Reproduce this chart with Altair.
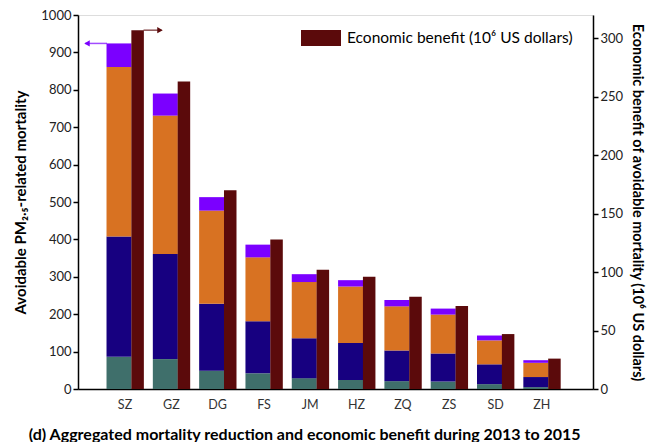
import altair as alt
import pandas as pd

cities = ["SZ", "GZ", "DG", "FS", "JM", "HZ", "ZQ", "ZS", "SD", "ZH"]
seg1 = [86, 80, 49, 42, 29, 24, 21, 20, 13, 5]        # teal (bottom)
seg2 = [322, 281, 179, 139, 107, 99, 82, 75, 53, 27]  # navy
seg3 = [453, 370, 249, 171, 150, 151, 118, 104, 64, 38]  # orange
seg4 = [63, 59, 36, 34, 21, 17, 17, 16, 13, 7]        # purple (top)
econ = [307, 263, 170, 128, 102, 96, 79, 71, 47, 26]  # economic benefit, 10^6 USD
left_ticks = [0, 100, 200, 300, 400, 500, 600, 700, 800, 900, 1000]
right_ticks = [0, 50, 100, 150, 200, 250, 300]

seg_names = ["s1", "s2", "s3", "s4"]
seg_colors = ["#3f6f6b", "#170080", "#d87222", "#7b00ff"]
red = "#5b0a0b"
FONT = "Lato"

rows = []
for i, c in enumerate(cities):
    for k, (name, vals) in enumerate(zip(seg_names, [seg1, seg2, seg3, seg4])):
        rows.append({"city": c, "seg": name, "order": k, "value": vals[i]})
stack_df = pd.DataFrame(rows)
econ_df = pd.DataFrame({"city": cities, "econ": econ,
                        "label": ["Economic benefit (10\u2076 US dollars)"] * len(cities)})
tot_df = pd.DataFrame({"city": cities,
                       "total": [a + b + c + d for a, b, c, d in zip(seg1, seg2, seg3, seg4)]})
arrow_left = tot_df[tot_df.city == cities[0]]
arrow_right = econ_df[econ_df.city == cities[0]]

xscale = alt.Scale(domain=cities, paddingInner=0, paddingOuter=0.56, align=0.46)
xaxis = alt.Axis(title=None, labelAngle=0, ticks=False, labelPadding=9,
                 labelFontSize=12.5, labelColor="#333333", labelFont=FONT,
                 domainColor="black", domainWidth=1.5)

yl = alt.Scale(domain=[0, 1000], nice=False)
yr = alt.Scale(domain=[0, 320], nice=False)

left_axis = alt.Axis(title="Avoidable PM\u2082.\u2085-related mortality",
                     values=left_ticks, format="d", labelOverlap=False, grid=False,
                     tickSize=5, tickColor="black", tickWidth=1.5,
                     domainColor="black", domainWidth=1.5,
                     labelFontSize=13, labelFont=FONT, labelColor="#222222",
                     titleFontSize=15, titleFont=FONT, titleFontWeight="bold",
                     titlePadding=12, titleColor="black")
right_axis = alt.Axis(orient="right",
                      title="Economic benefit of avoidable mortality (10\u2076 US dollars)",
                      values=right_ticks, format="d", labelOverlap=False, grid=False,
                      tickSize=5, tickColor="black", tickWidth=1.5,
                      domainColor="black", domainWidth=1.5,
                      labelFontSize=13, labelFont=FONT, labelColor="#222222",
                      titleFontSize=14.5, titleFont=FONT, titleFontWeight="bold",
                      titlePadding=7, titleColor="black")

stack = alt.Chart(stack_df).mark_bar(width=25, xOffset=-6).encode(
    x=alt.X("city:N", scale=xscale, axis=xaxis),
    y=alt.Y("sum(value):Q", scale=yl, axis=left_axis),
    color=alt.Color("seg:N", scale=alt.Scale(domain=seg_names, range=seg_colors), legend=None),
    order=alt.Order("order:Q", sort="ascending"),
)

arr_l_line = alt.Chart(arrow_left).mark_tick(orient="horizontal", size=22, thickness=1.5,
                                             xOffset=-29, color="#7b00ff").encode(
    x=alt.X("city:N", scale=xscale, axis=xaxis), y=alt.Y("total:Q", scale=yl, axis=left_axis))
arr_l_head = alt.Chart(arrow_left).mark_point(shape="triangle-left", size=40, filled=True,
                                              opacity=1, xOffset=-38, color="#7b00ff").encode(
    x=alt.X("city:N", scale=xscale, axis=xaxis), y=alt.Y("total:Q", scale=yl, axis=left_axis))

left = alt.layer(stack, arr_l_line, arr_l_head)

bar_r = alt.Chart(econ_df).mark_bar(width=12.5, xOffset=12.6).encode(
    x=alt.X("city:N", scale=xscale, axis=xaxis),
    y=alt.Y("econ:Q", scale=yr, axis=right_axis),
    color=alt.Color("label:N", scale=alt.Scale(range=[red]),
                    legend=alt.Legend(orient="none", legendX=223, legendY=3, title=None,
                                      symbolType="M-1,-0.4H1V0.4H-1Z", symbolSize=1600,
                                      symbolStrokeWidth=0, symbolOpacity=1,
                                      labelFontSize=15.5, labelFont=FONT, labelColor="black",
                                      labelLimit=0, labelOffset=6, padding=0)),
)
arr_r_line = alt.Chart(arrow_right).mark_tick(orient="horizontal", size=18, thickness=1.5,
                                              xOffset=27.5, color=red).encode(
    x=alt.X("city:N", scale=xscale, axis=xaxis), y=alt.Y("econ:Q", scale=yr, axis=right_axis))
arr_r_head = alt.Chart(arrow_right).mark_point(shape="triangle-right", size=40, filled=True,
                                               opacity=1, xOffset=35, color=red).encode(
    x=alt.X("city:N", scale=xscale, axis=xaxis), y=alt.Y("econ:Q", scale=yr, axis=right_axis))

right = alt.layer(bar_r, arr_r_line, arr_r_head)

chart = alt.layer(left, right).resolve_scale(y="independent", color="independent").properties(
    width=515, height=374,
    autosize=alt.AutoSizeParams(type="none"),
    padding={"left": 78, "top": 15, "right": 54, "bottom": 53},
    title=alt.TitleParams("(d) Aggregated mortality reduction and economic benefit during 2013 to 2015",
                          orient="bottom", anchor="start", fontSize=16, font=FONT,
                          fontWeight="bold", color="black", offset=16, dx=15),
).configure_view(stroke="black", strokeWidth=1.5).configure(background="white")

chart.save("out.html", embed_options={"renderer": "svg", "actions": False})
